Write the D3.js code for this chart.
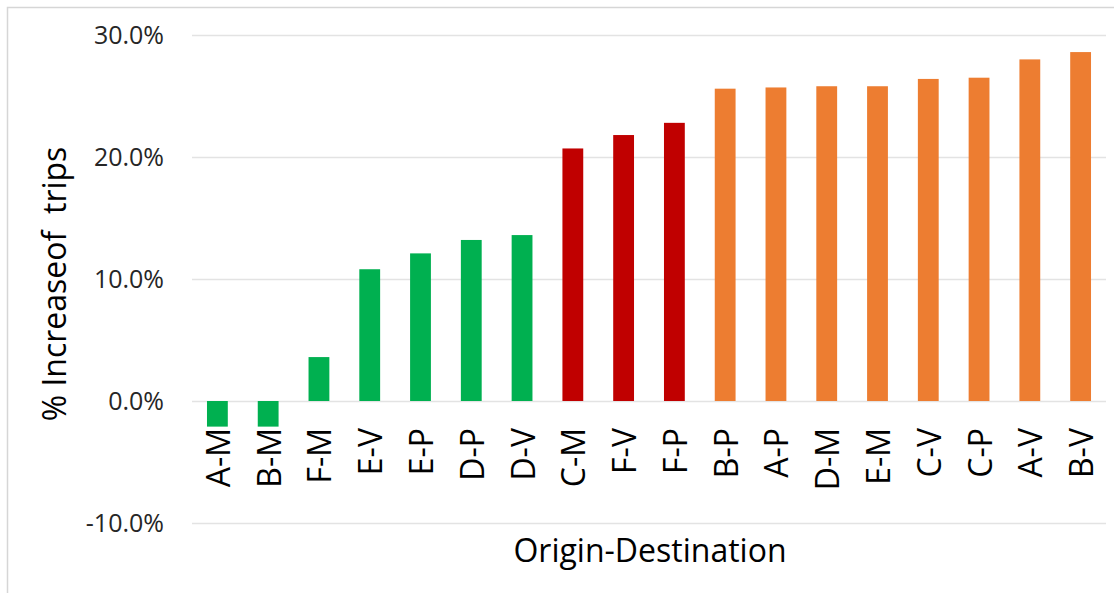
<!DOCTYPE html>
<html lang="en">

<head>
    <meta charset="utf-8">
    <title>Origin-Destination</title>
    <script src="https://d3js.org/d3.v7.min.js"></script>
    <style>
        body { margin: 0; background: #fff; }
        svg { display: block; }
    </style>
</head>

<body>
    <script type="text/javascript">

        var w = 1114;
        var h = 593;

        // data
        var categories = ["A-M", "B-M", "F-M", "E-V", "E-P", "D-P", "D-V",
                          "C-M", "F-V", "F-P",
                          "B-P", "A-P", "D-M", "E-M", "C-V", "C-P", "A-V", "B-V"];
        var values = [-2.1, -2.1, 3.6, 10.8, 12.1, 13.2, 13.6,
                      20.7, 21.8, 22.8,
                      25.6, 25.7, 25.8, 25.8, 26.4, 26.5, 28.0, 28.6];
        var groups = ["green", "green", "green", "green", "green", "green", "green",
                      "red", "red", "red",
                      "orange", "orange", "orange", "orange", "orange", "orange", "orange", "orange"];
        var yTicks = [-10, 0, 10, 20, 30];

        var groupColor = { green: "#00b050", red: "#c00000", orange: "#ed7d31" };

        // plot box (window.top is reserved, so no "top" here)
        var plotL = 192, plotR = 1106, plotT = 35, plotB = 523;

        var svg = d3.select("body")
            .append("svg")
            .attr("width", w)
            .attr("height", h);

        // outer frame
        svg.append("rect")
            .attr("x", 7.5)
            .attr("y", 7.5)
            .attr("width", w + 20)
            .attr("height", h + 20)
            .attr("fill", "none")
            .attr("stroke", "#d6d6d6")
            .attr("stroke-width", 1.5);

        var x = d3.scaleBand()
            .domain(categories)
            .range([plotL, plotR])
            .paddingInner(0.59)
            .paddingOuter(0.295);

        var y = d3.scaleLinear()
            .domain([-10, 30])
            .range([plotB, plotT]);

        // gridlines + tick labels
        var yAxis = d3.axisLeft(y)
            .tickValues(yTicks)
            .tickSize(-(plotR - plotL))
            .tickPadding(28)
            .tickFormat(function (d) { return d.toFixed(1) + "%"; });

        var gy = svg.append("g")
            .attr("transform", "translate(" + plotL + ",0)")
            .call(yAxis);
        gy.select(".domain").remove();
        gy.selectAll(".tick line")
            .attr("stroke", "#e3e3e3")
            .attr("stroke-width", 1.5);
        gy.selectAll(".tick text")
            .attr("fill", "#262626")
            .style("font-family", "'Open Sans', sans-serif")
            .style("font-size", "25px");

        // bars
        svg.selectAll("rect.bar")
            .data(values)
            .enter()
            .append("rect")
            .attr("class", "bar")
            .attr("x", function (d, i) { return x(categories[i]); })
            .attr("width", x.bandwidth())
            .attr("y", function (d) { return y(Math.max(0, d)); })
            .attr("height", function (d) { return Math.abs(y(d) - y(0)); })
            .attr("fill", function (d, i) { return groupColor[groups[i]]; });

        // category labels, rotated
        svg.selectAll("text.cat")
            .data(categories)
            .enter()
            .append("text")
            .attr("class", "cat")
            .attr("transform", function (d) {
                return "translate(" + (x(d) + x.bandwidth() / 2 + 1) + ",428) rotate(-90)";
            })
            .attr("dy", "0.36em")
            .attr("text-anchor", "end")
            .attr("fill", "#000")
            .style("font-family", "'Open Sans', sans-serif")
            .style("font-size", "32px")
            .text(function (d) { return d; });

        // axis titles
        svg.append("text")
            .attr("x", (plotL + plotR) / 2 + 1)
            .attr("y", 562)
            .attr("text-anchor", "middle")
            .attr("fill", "#000")
            .style("font-family", "'Open Sans', sans-serif")
            .style("font-size", "32px")
            .text("Origin-Destination");

        svg.append("text")
            .attr("transform", "translate(66,284) rotate(-90)")
            .attr("text-anchor", "middle")
            .attr("fill", "#000")
            .style("font-family", "'Open Sans', sans-serif")
            .style("font-size", "32px")
            .style("white-space", "pre")
            .text("% Increaseof  trips");

    </script>
</body>

</html>
